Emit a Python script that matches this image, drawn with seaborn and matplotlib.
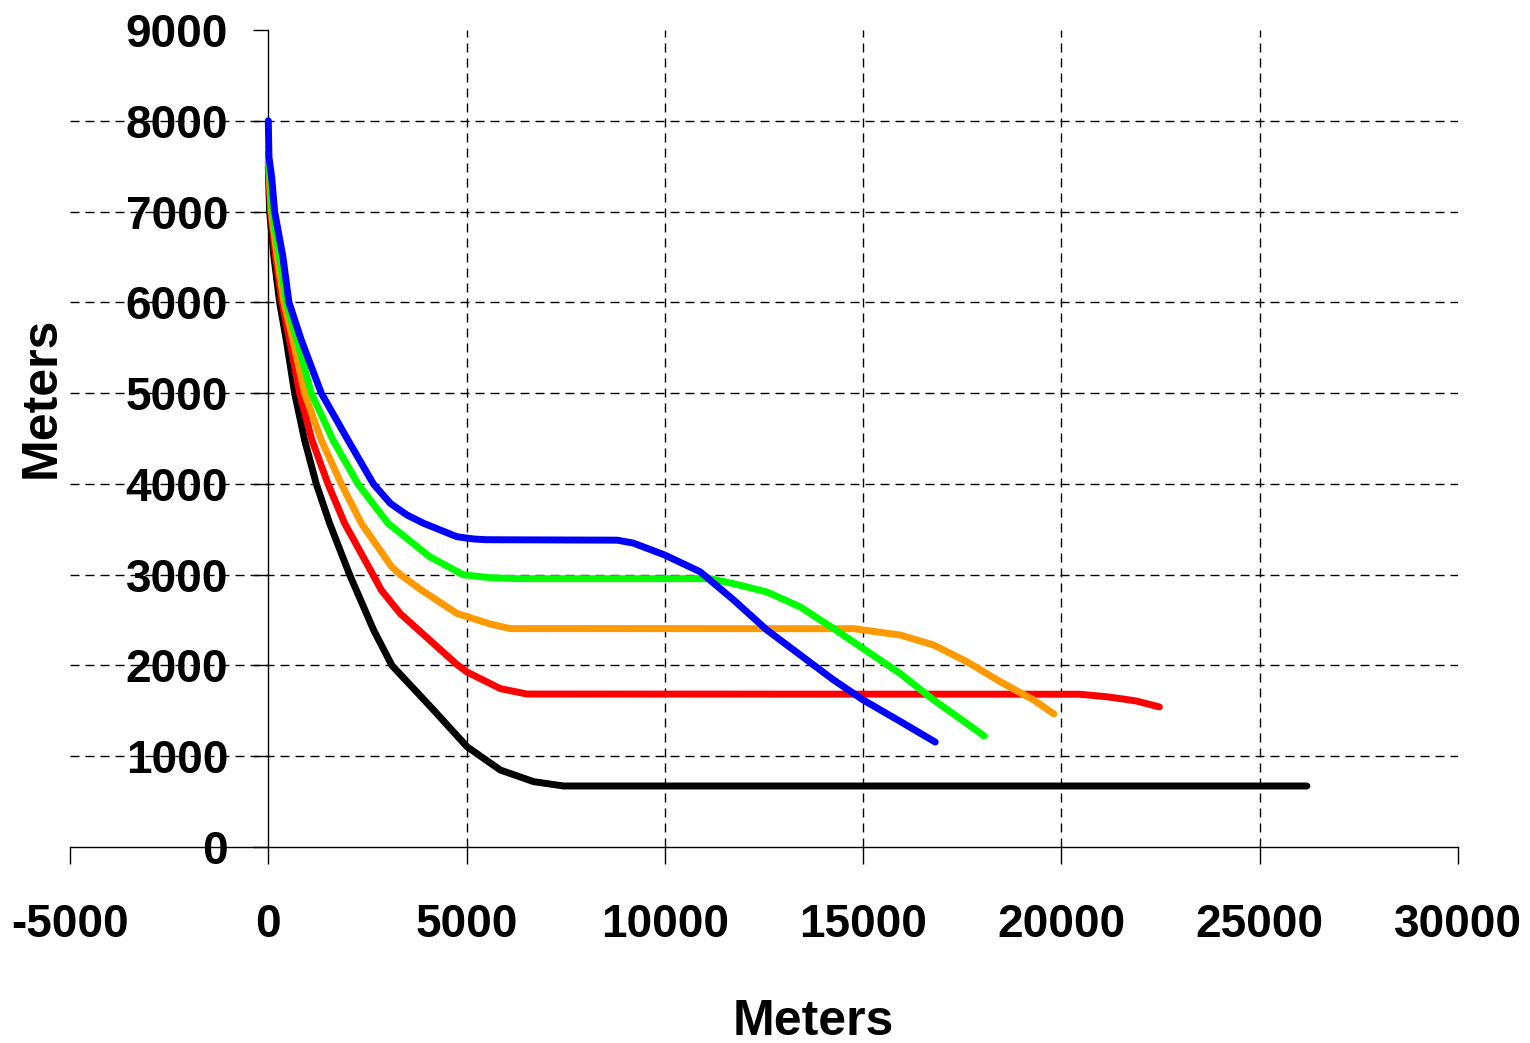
import matplotlib
matplotlib.use('Agg')
import matplotlib.pyplot as plt
import pandas as pd
import seaborn as sns

# distance (m) vs height (m) for five runs
black_x = [0, 33, 143, 286, 454, 664, 916, 1210, 1546, 2051, 2219, 2656, 3118, 4168,
           5010, 5850, 6690, 7447, 26190]
black_y = [7500, 7000, 6498, 6000, 5585, 5000, 4483, 4000, 3566, 3000, 2831, 2390, 2000, 1509,
           1105, 848, 720, 672, 672]

red_x = [0, 58, 185, 345, 538, 790, 1101, 1505, 1925, 2639, 2849, 3328, 4168, 4757, 5010,
         5850, 6523, 20450, 21130, 21560, 21890, 22470]
red_y = [7550, 7000, 6498, 6000, 5585, 5000, 4483, 4000, 3566, 3000, 2831, 2571, 2241, 2010, 1928,
         1745, 1685, 1683, 1656, 1630, 1608, 1543]

orange_x = [0, 76, 227, 396, 622, 916, 1336, 1841, 2345, 3110, 3330, 3858, 4757, 5598, 6100,
            14760, 15936, 16776, 17616, 18457, 19297, 19810]
orange_y = [7600, 7000, 6498, 6000, 5585, 5000, 4483, 4000, 3566, 3087, 3000, 2831, 2573, 2456,
            2406, 2405, 2335, 2225, 2041, 1821, 1620, 1465]

green_x = [0, 101, 286, 454, 723, 1084, 1631, 2261, 3017, 4068, 4909, 5598, 6300, 11145,
           11734, 12574, 13415, 14255, 15000, 15936, 16776, 17616, 18054]
green_y = [7650, 7000, 6498, 6000, 5585, 5000, 4483, 4000, 3566, 3198, 3000, 2966, 2956, 2956,
           2901, 2809, 2644, 2406, 2186, 1910, 1620, 1360, 1222]

blue_x = [0, 17, 84, 160, 370, 521, 832, 1336, 2009, 2650, 3076, 3497, 3916, 4757, 5177, 5500,
          8800, 9203, 10000, 10893, 11734, 12574, 13415, 14255, 15000, 15936, 16818]
blue_y = [8000, 7600, 7384, 7000, 6498, 6000, 5585, 5000, 4483, 4000, 3786, 3657, 3566, 3418,
          3393, 3385, 3380, 3348, 3216, 3031, 2721, 2390, 2115, 1840, 1620, 1383, 1156]

runs = ['black', 'red', 'orange', 'green', 'blue']
colors = {'black': '#000000', 'red': '#FF0000', 'orange': '#FF9900',
          'green': '#00FF00', 'blue': '#0000FF'}

x_ticks = list(range(-5000, 30001, 5000))
y_ticks = list(range(0, 9001, 1000))

frames = []
for name, xs, ys in zip(runs, [black_x, red_x, orange_x, green_x, blue_x],
                        [black_y, red_y, orange_y, green_y, blue_y]):
    frames.append(pd.DataFrame({'x': xs, 'y': ys, 'run': name}))
df = pd.concat(frames, ignore_index=True)

sns.set_style('white')
plt.rcParams['font.family'] = ['Liberation Sans', 'DejaVu Sans']
plt.rcParams['axes.unicode_minus'] = False
plt.rcParams['text.color'] = 'black'

fig = plt.figure(figsize=(15.3, 10.43), dpi=100)
ax = fig.add_axes([70 / 1530, 196 / 1043, 1388 / 1530, 817 / 1043])

# dashed grid, Excel style (no line on the outer edges)
grid_kw = dict(colors='black', linewidth=1, linestyles=(0, (6.5, 4.3)), zorder=1)
ax.hlines(y_ticks[1:-1], x_ticks[0], x_ticks[-1], **grid_kw)
ax.vlines(x_ticks[2:-1], y_ticks[0], y_ticks[-1], **grid_kw)

sns.lineplot(data=df, x='x', y='y', hue='run', hue_order=runs, palette=colors,
             sort=False, estimator=None, legend=False, linewidth=5,
             solid_capstyle='round', solid_joinstyle='round', ax=ax, zorder=3)

ax.set_xlim(-5000, 30000)
ax.set_ylim(0, 9000)
ax.set_xticks(x_ticks)
ax.set_yticks(y_ticks)
ax.set_xlabel('')
ax.set_ylabel('')

ax.spines['left'].set_position(('data', 0))
ax.spines['top'].set_visible(False)
ax.spines['right'].set_visible(False)
for s in ['left', 'bottom']:
    ax.spines[s].set_color('black')
    ax.spines[s].set_linewidth(1)

ax.tick_params(axis='x', direction='out', length=12, width=1, pad=28,
               labelsize=33, colors='black', bottom=True)
ax.tick_params(axis='y', direction='out', length=11, width=1, pad=18,
               labelsize=33, colors='black', left=True)
for lab in ax.get_xticklabels() + ax.get_yticklabels():
    lab.set_fontweight('bold')

fig.text(813 / 1530, 1 - 1035 / 1043, 'Meters', ha='center', va='baseline',
         fontsize=36, fontweight='bold', color='black')
fig.text(55 / 1530, 1 - 397 / 1043, 'Meters', ha='center', va='baseline',
         rotation=90, rotation_mode='anchor', fontsize=36, fontweight='bold',
         color='black')

fig.savefig('out.png', dpi=100)
